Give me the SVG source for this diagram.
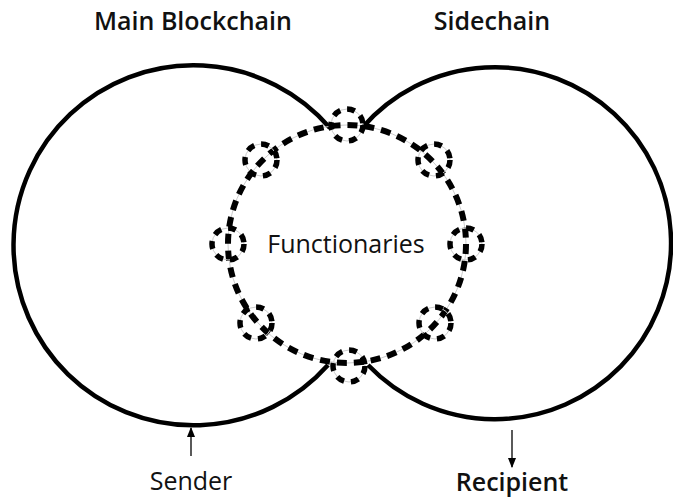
<svg xmlns="http://www.w3.org/2000/svg" width="673" height="500" viewBox="0 0 673 500">
<defs>
<style>
.chain{fill:none;stroke:#000;stroke-width:4.5}
.guide{fill:none;stroke:#ccc;stroke-width:1}
.dash{fill:none;stroke:#000;stroke-width:6;stroke-dasharray:10 7}
.sdash{fill:none;stroke:#000;stroke-width:5.5;stroke-dasharray:8 7}
.lbl{font-family:"Open Sans","Noto Sans",sans-serif;font-size:25px;fill:#111;text-anchor:middle}
.arr{stroke:#000;stroke-width:1.3;fill:none}
</style>
<marker id="ah" viewBox="0 0 10 10" refX="9" refY="5" markerWidth="8" markerHeight="8" orient="auto">
<path d="M0,1 L10,5 L0,9 z" fill="#000"/>
</marker>
</defs>
<rect width="673" height="500" fill="#fff"/>
<g id="main-blockchain">
<path class="chain" d="M 330 128 A 180 180 0 1 0 328 365"/>
<text class="lbl" x="193" y="30" font-weight="600">Main Blockchain</text>
</g>
<g id="sidechain">
<path class="chain" d="M 362 128 A 176 176 0 1 1 368 365"/>
<text class="lbl" x="492" y="30" font-weight="600">Sidechain</text>
</g>
<g id="functionaries">
<circle class="guide" cx="347" cy="244" r="119"/>
<circle class="dash" cx="347" cy="244" r="119"/>
<text class="lbl" x="346" y="253">Functionaries</text>
</g>
<g id="functionary-nodes">
<circle class="guide" cx="347" cy="125" r="16"/><circle class="sdash" cx="347" cy="125" r="16"/>
<circle class="guide" cx="434" cy="160" r="16"/><circle class="sdash" cx="434" cy="160" r="16"/>
<circle class="guide" cx="466" cy="244" r="16"/><circle class="sdash" cx="466" cy="244" r="16"/>
<circle class="guide" cx="435" cy="323" r="16"/><circle class="sdash" cx="435" cy="323" r="16"/>
<circle class="guide" cx="349" cy="366" r="16"/><circle class="sdash" cx="349" cy="366" r="16"/>
<circle class="guide" cx="256" cy="323" r="16"/><circle class="sdash" cx="256" cy="323" r="16"/>
<circle class="guide" cx="228" cy="244" r="16"/><circle class="sdash" cx="228" cy="244" r="16"/>
<circle class="guide" cx="261" cy="160" r="16"/><circle class="sdash" cx="261" cy="160" r="16"/>
</g>
<g id="connectors">
<line class="arr" x1="191" y1="456" x2="191" y2="428" marker-end="url(#ah)"/>
<line class="arr" x1="512" y1="430" x2="512" y2="467" marker-end="url(#ah)"/>
</g>
<g id="sender"><text class="lbl" x="191" y="490">Sender</text></g>
<g id="recipient"><text class="lbl" x="512" y="491" font-weight="600">Recipient</text></g>
</svg>
